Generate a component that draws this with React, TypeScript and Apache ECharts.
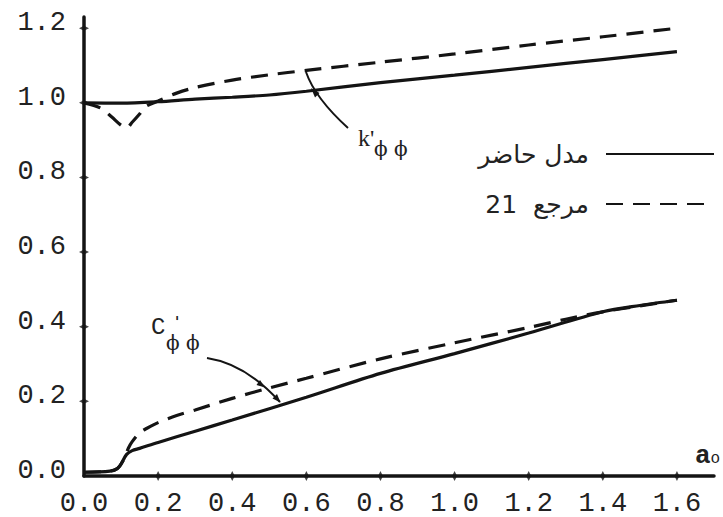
import React, { useEffect, useRef } from "react";
import * as echarts from "echarts";

// ---- data ----
const kPresentX = [0, 0.1, 0.2, 0.3, 0.4, 0.5, 0.6, 0.8, 1.0, 1.2, 1.4, 1.6];
const kPresentY = [1.0, 0.999, 1.003, 1.01, 1.015, 1.021, 1.031, 1.054, 1.074, 1.095, 1.116, 1.137];

const kRefX = [0, 0.045, 0.075, 0.1, 0.115, 0.13, 0.15, 0.165, 0.2, 0.25, 0.3, 0.4, 0.5, 0.6, 0.8, 1.0, 1.2, 1.4, 1.6];
const kRefY = [1.0, 0.986, 0.962, 0.94, 0.933, 0.948, 0.97, 0.989, 1.005, 1.026, 1.041, 1.061, 1.075, 1.087, 1.109, 1.131, 1.155, 1.177, 1.2];

const cPresentX = [0, 0.07, 0.09, 0.1, 0.115, 0.13, 0.15, 0.2, 0.3, 0.4, 0.6, 0.8, 1.0, 1.2, 1.4, 1.5, 1.6];
const cPresentY = [0.01, 0.013, 0.02, 0.032, 0.058, 0.068, 0.074, 0.09, 0.12, 0.15, 0.211, 0.275, 0.328, 0.383, 0.44, 0.457, 0.471];

const cRefX = [0, 0.07, 0.09, 0.105, 0.12, 0.13, 0.15, 0.17, 0.2, 0.25, 0.3, 0.4, 0.5, 0.6, 0.8, 1.0, 1.2, 1.3, 1.4, 1.5, 1.6];
const cRefY = [0.01, 0.013, 0.02, 0.04, 0.075, 0.092, 0.116, 0.128, 0.143, 0.162, 0.177, 0.208, 0.236, 0.262, 0.314, 0.357, 0.398, 0.42, 0.44, 0.456, 0.471];

const xLabelValues = [0, 0.2, 0.4, 0.6, 0.8, 1.0, 1.2, 1.4, 1.6];
const yLabelValues = [0, 0.2, 0.4, 0.6, 0.8, 1.0, 1.2];
const xTickValues = [0.2, 0.4, 0.6, 0.8, 1.0, 1.2, 1.4, 1.6];
const yTickValues = [0.2, 0.4, 0.6, 0.8, 1.0, 1.2];

const presentName = "مدل حاضر";
const refName = "مرجع  21";

const zip = (xs: number[], ys: number[]) => xs.map((x, i) => [x, ys[i]]);

const INK = "#141414";
const TXT = "#222";

export default function App() {
  const ref = useRef<HTMLDivElement>(null);
  useEffect(() => {
    if (!ref.current) return;
    const chart = echarts.init(ref.current, undefined, { renderer: "svg" });
    const solid = { color: INK, width: 3.2, type: "solid" as const };
    const dashed = { color: INK, width: 3.2, type: [17, 10] as any };
    const tri = (pts: number[][]) => ({
      type: "polygon",
      shape: { points: pts },
      style: { fill: INK },
      silent: true,
    });
    chart.setOption({
      animation: false,
      backgroundColor: "#fff",
      grid: { left: 84, right: 9, top: 17, bottom: 41 },
      xAxis: {
        type: "value",
        min: 0,
        max: 1.7,
        splitLine: { show: false },
        axisLine: { show: true, lineStyle: { color: INK, width: 3.5 } },
        axisTick: { show: false },
        axisLabel: {
          customValues: xLabelValues,
          formatter: (v: number) => v.toFixed(1),
          fontFamily: "Liberation Mono",
          fontSize: 27,
          color: TXT,
          margin: 14,
        },
      },
      yAxis: {
        type: "value",
        min: 0,
        max: 1.23,
        splitLine: { show: false },
        axisLine: { show: true, lineStyle: { color: INK, width: 3.5 } },
        axisTick: { show: false },
        axisLabel: {
          customValues: yLabelValues,
          formatter: (v: number) => "{v|" + v.toFixed(1) + "}",
          fontFamily: "Liberation Mono",
          fontSize: 27,
          color: TXT,
          margin: 18,
          rich: {
            v: {
              fontFamily: "Liberation Mono",
              fontSize: 27,
              color: TXT,
              padding: [0, 0, 10, 0],
            },
          },
        },
      },
      legend: {
        data: [presentName, refName],
        orient: "vertical",
        right: 3,
        top: 135,
        align: "right",
        itemWidth: 108,
        itemHeight: 14,
        itemGap: 22,
        itemStyle: { color: "rgba(0,0,0,0)", borderWidth: 0 },
        textStyle: {
          fontFamily: "DejaVu Sans",
          fontSize: 25,
          lineHeight: 28,
          color: TXT,
          padding: [0, 12, 0, 0],
        },
      },
      series: [
        {
          name: presentName,
          type: "line",
          data: zip(kPresentX, kPresentY),
          symbol: "none",
          smooth: 0.3,
          lineStyle: solid,
          itemStyle: { color: INK },
        },
        {
          name: refName,
          type: "line",
          data: zip(kRefX, kRefY),
          symbol: "none",
          smooth: 0.3,
          lineStyle: dashed,
          itemStyle: { color: INK },
        },
        {
          name: presentName,
          type: "line",
          data: zip(cPresentX, cPresentY),
          symbol: "none",
          smooth: 0.3,
          lineStyle: solid,
          itemStyle: { color: INK },
        },
        {
          name: refName,
          type: "line",
          data: zip(cRefX, cRefY),
          symbol: "none",
          smooth: 0.3,
          lineStyle: dashed,
          itemStyle: { color: INK },
        },
        {
          name: "xticks",
          type: "scatter",
          data: xTickValues.map((v) => [v, 0]),
          symbol: "diamond",
          symbolSize: [5, 10],
          itemStyle: { color: INK },
          clip: false,
          silent: true,
          z: 5,
        },
        {
          name: "yticks",
          type: "scatter",
          data: yTickValues.map((v) => [0, v]),
          symbol: "diamond",
          symbolSize: [10, 5],
          itemStyle: { color: INK },
          clip: false,
          silent: true,
          z: 5,
        },
      ],
      graphic: [
        // k'φφ label
        { type: "text", left: 358, top: 126, style: { text: "k'", font: "24px 'Liberation Serif'", fill: TXT } },
        { type: "text", left: 374, top: 139, style: { text: "ϕ ϕ", font: "20px 'DejaVu Serif'", fill: TXT } },
        // C'φφ label
        { type: "text", left: 151, top: 315, style: { text: "C", font: "24px 'Liberation Mono'", fill: TXT } },
        { type: "text", left: 175, top: 315, style: { text: "'", font: "bold 14px 'DejaVu Serif'", fill: TXT } },
        { type: "text", left: 166, top: 333, style: { text: "ϕ ϕ", font: "20px 'DejaVu Serif'", fill: TXT } },
        // arrows
        {
          type: "bezierCurve",
          shape: { x1: 348, y1: 128, x2: 306, y2: 72, cpx1: 315, cpy1: 98 },
          style: { stroke: INK, lineWidth: 2, fill: "none" },
          silent: true,
        },
        tri([[311, 88], [319.5, 93], [315, 97.5]]),
        {
          type: "bezierCurve",
          shape: { x1: 207, y1: 358, x2: 280, y2: 402, cpx1: 246, cpy1: 364 },
          style: { stroke: INK, lineWidth: 2, fill: "none" },
          silent: true,
        },
        tri([[265, 387.5], [256.5, 385], [260, 380]]),
        tri([[280.5, 402.5], [272.5, 398.5], [277, 394]]),
        // x axis name
        {
          type: "text",
          left: 695,
          top: 437,
          style: {
            text: "{a|a}{o|o}",
            fill: TXT,
            rich: {
              a: { font: "bold 26px 'Liberation Mono'", fill: TXT, verticalAlign: "top", lineHeight: 24 },
              o: { font: "16px 'Liberation Mono'", fill: TXT, verticalAlign: "bottom", lineHeight: 16, padding: [14, 0, 0, 0] },
            },
          },
        },
      ],
    });
    return () => chart.dispose();
  }, []);
  return <div ref={ref} style={{ width: 723, height: 517, position: "absolute", left: 0, top: 0 }} />;
}
